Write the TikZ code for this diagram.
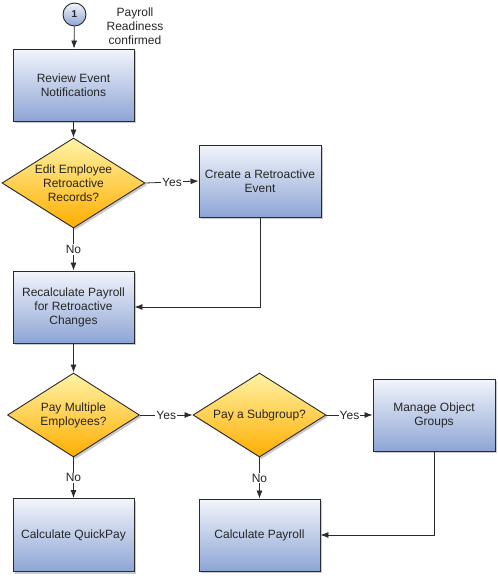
\documentclass[tikz,border=0pt]{standalone}
\usepackage{fontspec}
\setmainfont{Liberation Sans}
\usetikzlibrary{shapes.geometric,arrows.meta,shadows}
\definecolor{boxtop}{HTML}{F2F5FB}
\definecolor{boxbot}{HTML}{8DA5D5}
\definecolor{dectop}{HTML}{FFF3A6}
\definecolor{decbot}{HTML}{FFAE00}
\definecolor{edge}{HTML}{2B2B2B}
\begin{document}
\begin{tikzpicture}[x=1pt,y=-1pt,
    font=\fontsize{12}{14}\selectfont, text=black!85,
    flow/.style={draw=edge,line width=0.8pt,-{Latex[length=8pt,width=6pt]}},
    taskbox/.style={rectangle,draw=edge,line width=0.9pt,top color=boxtop,bottom color=boxbot,
      minimum width=121,minimum height=72,align=center,inner sep=2pt,
      drop shadow={shadow xshift=2pt,shadow yshift=-2pt,fill=black!35,opacity=0.6}},
    decision/.style={diamond,draw=edge,line width=0.9pt,top color=dectop,bottom color=decbot,
      align=center,inner sep=0pt,shape aspect=1.6,
      drop shadow={shadow xshift=2pt,shadow yshift=-2pt,fill=black!35,opacity=0.6}},
    answer/.style={fill=white,inner sep=1pt}]
  \useasboundingbox (0,0) rectangle (498,576);
  % start event
  \node[circle,draw=edge,line width=0.9pt,top color=boxtop,bottom color=boxbot,minimum size=23,inner sep=0pt,
    font=\fontsize{10}{10}\selectfont\bfseries] (start) at (74.5,14.5) {1};
  \node[align=center] (ready) at (135,26) {Payroll\\Readiness\\confirmed};
  % first column
  \node[taskbox] (review) at (73.5,85) {Review Event\\Notifications};
  \node[decision,minimum width=143,minimum height=90,inner sep=-3pt] (editrec) at (73.5,183) {Edit Employee\\Retroactive\\Records?};
  \node[taskbox] (recalc) at (73.5,307) {Recalculate Payroll\\for Retroactive\\Changes};
  \node[decision,minimum width=132,minimum height=84] (paymulti) at (73.5,415) {Pay Multiple\\Employees?};
  \node[taskbox,minimum height=73] (quickpay) at (73.5,535) {Calculate QuickPay};
  % second and third column
  \node[taskbox,minimum width=122] (createret) at (260,181) {Create a Retroactive\\Event};
  \node[decision,minimum width=133,minimum height=84] (subgroup) at (259.5,415) {Pay a Subgroup?};
  \node[taskbox] (calcpay) at (259.5,535) {Calculate Payroll};
  \node[taskbox,minimum width=122] (manage) at (434,415) {Manage Object\\Groups};
  % connectors
  \draw[flow] (start) -- (review);
  \draw[flow] (review) -- (editrec);
  \draw[flow] (editrec.east) -- node[answer] {Yes} (createret.west);
  \draw[flow] (editrec.south) -- node[answer] {No} (recalc.north);
  \draw[flow] (createret.south) |- (recalc.east);
  \draw[flow] (recalc) -- (paymulti);
  \draw[flow] (paymulti.east) -- node[answer] {Yes} (subgroup.west);
  \draw[flow] (paymulti.south) -- node[answer] {No} (quickpay.north);
  \draw[flow] (subgroup.east) -- node[answer] {Yes} (manage.west);
  \draw[flow] (subgroup.south) -- node[answer] {No} (calcpay.north);
  \draw[flow] (manage.south) |- (calcpay.east);
\end{tikzpicture}
\end{document}
